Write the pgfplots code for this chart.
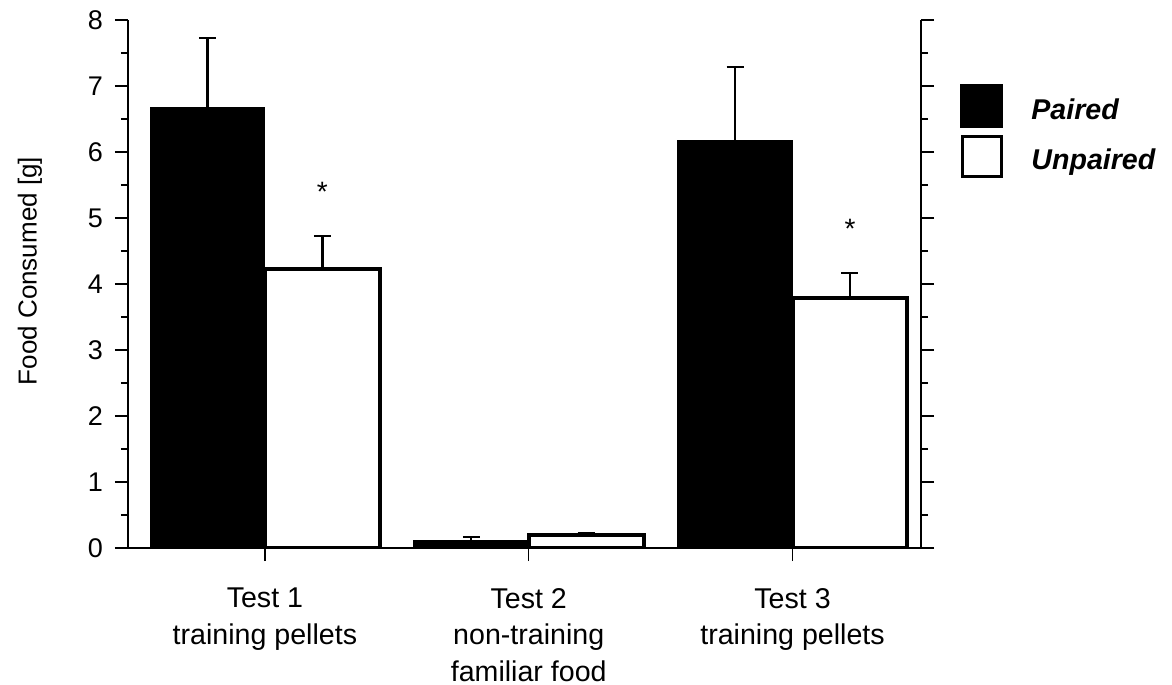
\documentclass[border=0pt]{standalone}
\usepackage{pgfplots}
\pgfplotsset{compat=1.18}
\usepackage{fontspec}
\setmainfont{Liberation Sans}
\begin{document}
\begin{tikzpicture}
\useasboundingbox (-64pt,-68.5pt) rectangle (522pt,274pt);
\begin{axis}[
  at={(0,0)}, anchor=south west,
  scale only axis, width=396.5pt, height=264pt,
  xmin=-0.519, xmax=2.487, ymin=0, ymax=8,
  ybar=0pt, bar width=0.4356,
  axis x line*=bottom,
  x axis line style={-},
  axis line style={line width=1pt, black},
  xtick={0,1,2},
  xticklabels={{Test 1\\training pellets},{Test 2\\non-training\\familiar food},{Test 3\\training pellets}},
  xticklabel style={align=center, font=\fontsize{14.3}{18.25}\selectfont, yshift=-10pt},
  ytick={0,1,...,8}, minor ytick={0.5,1.5,...,7.5},
  tick align=outside,
  major tick length=6.5pt, minor tick length=3.5pt,
  every tick/.style={black, line width=0.75pt},
  yticklabel style={font=\fontsize{13.5}{15}\selectfont, xshift=-2.5pt},
  /pgf/number format/assume math mode=true,
  ylabel={Food Consumed [g]},
  ylabel style={font=\fontsize{13}{15}\selectfont, at={(axis description cs:-0.1236,0.5246)}, anchor=center},
  legend style={at={(axis description cs:1,1)}, anchor=north west, xshift=19.5pt, yshift=-32pt,
    draw=none, fill=none, inner sep=0pt, column sep=12pt, row sep=3.25pt,
    font=\fontsize{14.3}{17}\selectfont\bfseries\itshape},
  legend cell align=left,
  error bars/y dir=plus, error bars/y explicit,
  error bars/error bar style={line width=1.2pt, black},
  error bars/error mark options={rotate=90, line width=1.2pt, mark size=4.25pt, black},
]
\addplot[fill=black, draw=black, line width=0.5pt,
  legend image code/.code={\draw[fill=black, draw=black] (0pt,-8.5pt) rectangle (21pt,13pt);}]
  coordinates {(0,6.68) +- (0,1.05) (1,0.11) +- (0,0.06) (2,6.18) +- (0,1.11)};
\addlegendentry{Paired}
\addplot[fill=white, draw=black, line width=2pt,
  legend image code/.code={\draw[fill=white, draw=black, line width=1.5pt] (0.75pt,-7.75pt) rectangle (20.25pt,12.25pt);}]
  coordinates {(0,4.23) +- (0,0.50) (1,0.19) +- (0,0.04) (2,3.79) +- (0,0.38)};
\addlegendentry{Unpaired}
\node[font=\fontsize{14}{16}\selectfont] at (axis cs:0.218,5.40) {*};
\node[font=\fontsize{14}{16}\selectfont] at (axis cs:2.218,4.84) {*};
\end{axis}
\end{tikzpicture}
\end{document}
